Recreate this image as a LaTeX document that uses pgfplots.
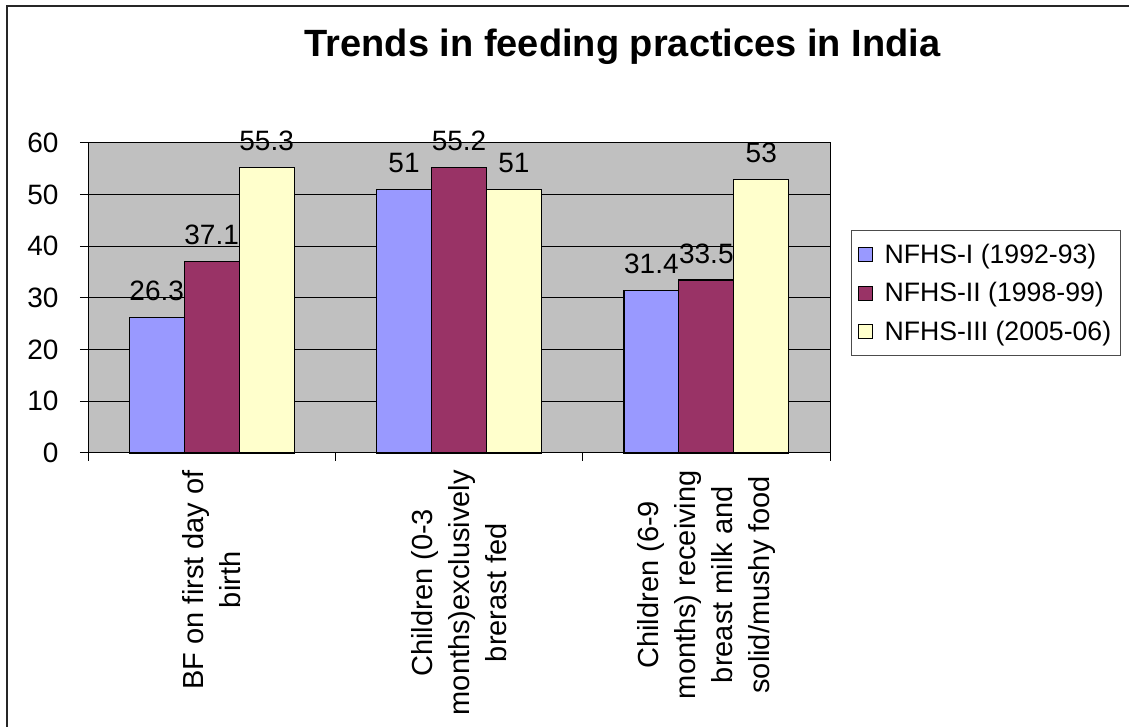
\documentclass[border=0pt]{standalone}
\usepackage{fontspec}
\setmainfont{Liberation Sans}
\usepackage{pgfplots}
\pgfplotsset{compat=1.18}

\definecolor{nfhsone}{HTML}{9999FF}
\definecolor{nfhstwo}{HTML}{993366}
\definecolor{nfhsthree}{HTML}{FFFFCC}
\definecolor{plotgray}{HTML}{C0C0C0}

\begin{document}
\begin{tikzpicture}
\useasboundingbox (0,0) rectangle (846.75pt,545.25pt);
\fill[white] (0,0) rectangle (846.75pt,545.25pt);
% chart frame
\draw[black!85, line width=1.5pt] (5.6pt,0pt) -- (5.6pt,540.75pt) -- (846.75pt,540.75pt);
\begin{axis}[
  at={(66pt,205.5pt)}, anchor=south west,
  scale only axis, width=556.5pt, height=232.5pt,
  clip=false,
  axis background/.style={fill=plotgray},
  axis line style={black, line width=0.75pt},
  ybar=0pt, bar width=0.2222,
  xmin=-0.5, xmax=2.5, ymin=0, ymax=60,
  ytick={0,10,...,60},
  xtick={-0.5,0.5,1.5,2.5},
  xticklabels={},
  extra x ticks={0,1,2},
  extra x tick labels={{BF on first day of\\birth},{Children (0-3\\months)exclusively\\brerast fed},{Children (6-9\\months) receiving\\breast milk and\\solid/mushy food}},
  extra x tick style={major tick length=0pt},
  xtick pos=bottom, ytick pos=left,
  tick align=outside, major tick length=6pt,
  tick style={black, line width=0.75pt},
  ymajorgrids, major grid style={black, line width=0.75pt},
  /pgf/number format/assume math mode=true,
  tick label style={font=\fontsize{21}{25}\selectfont},
  yticklabel style={inner sep=0pt, xshift=-16pt},
  xticklabel style={font=\fontsize{21.75}{27.75}\selectfont, rotate=90, anchor=east, align=center, inner sep=0pt, xshift=-12.75pt},
  title={Trends in feeding practices in India},
  title style={at={(0.7204,1.2516)}, anchor=base, inner sep=0pt, font=\bfseries\fontsize{28.5}{34}\selectfont},
  nodes near coords,
  every node near coord/.append style={font=\fontsize{21}{25}\selectfont, text=black, inner sep=0pt, yshift=12pt},
  legend entries={NFHS-I (1992-93),NFHS-II (1998-99),NFHS-III (2005-06)},
  legend cell align=left,
  legend image code/.code={\draw[#1, line width=0.75pt] (0pt,-5.25pt) rectangle (10.5pt,5.25pt);},
  legend style={at={(1.0283,0.7194)}, anchor=north west, draw=black!70, line width=0.75pt, fill=white,
    font=\fontsize{20}{24}\selectfont, inner xsep=5pt, inner ysep=8pt, row sep=9pt,
    /tikz/every odd column/.append style={column sep=6.5pt}},
]
\addplot[fill=nfhsone, draw=black, line width=0.9pt] coordinates {(0,26.3) (1,51) (2,31.4)};
\addplot[fill=nfhstwo, draw=black, line width=0.9pt] coordinates {(0,37.1) (1,55.2) (2,33.5)};
\addplot[fill=nfhsthree, draw=black, line width=0.9pt] coordinates {(0,55.3) (1,51) (2,53)};
\end{axis}
\end{tikzpicture}
\end{document}
